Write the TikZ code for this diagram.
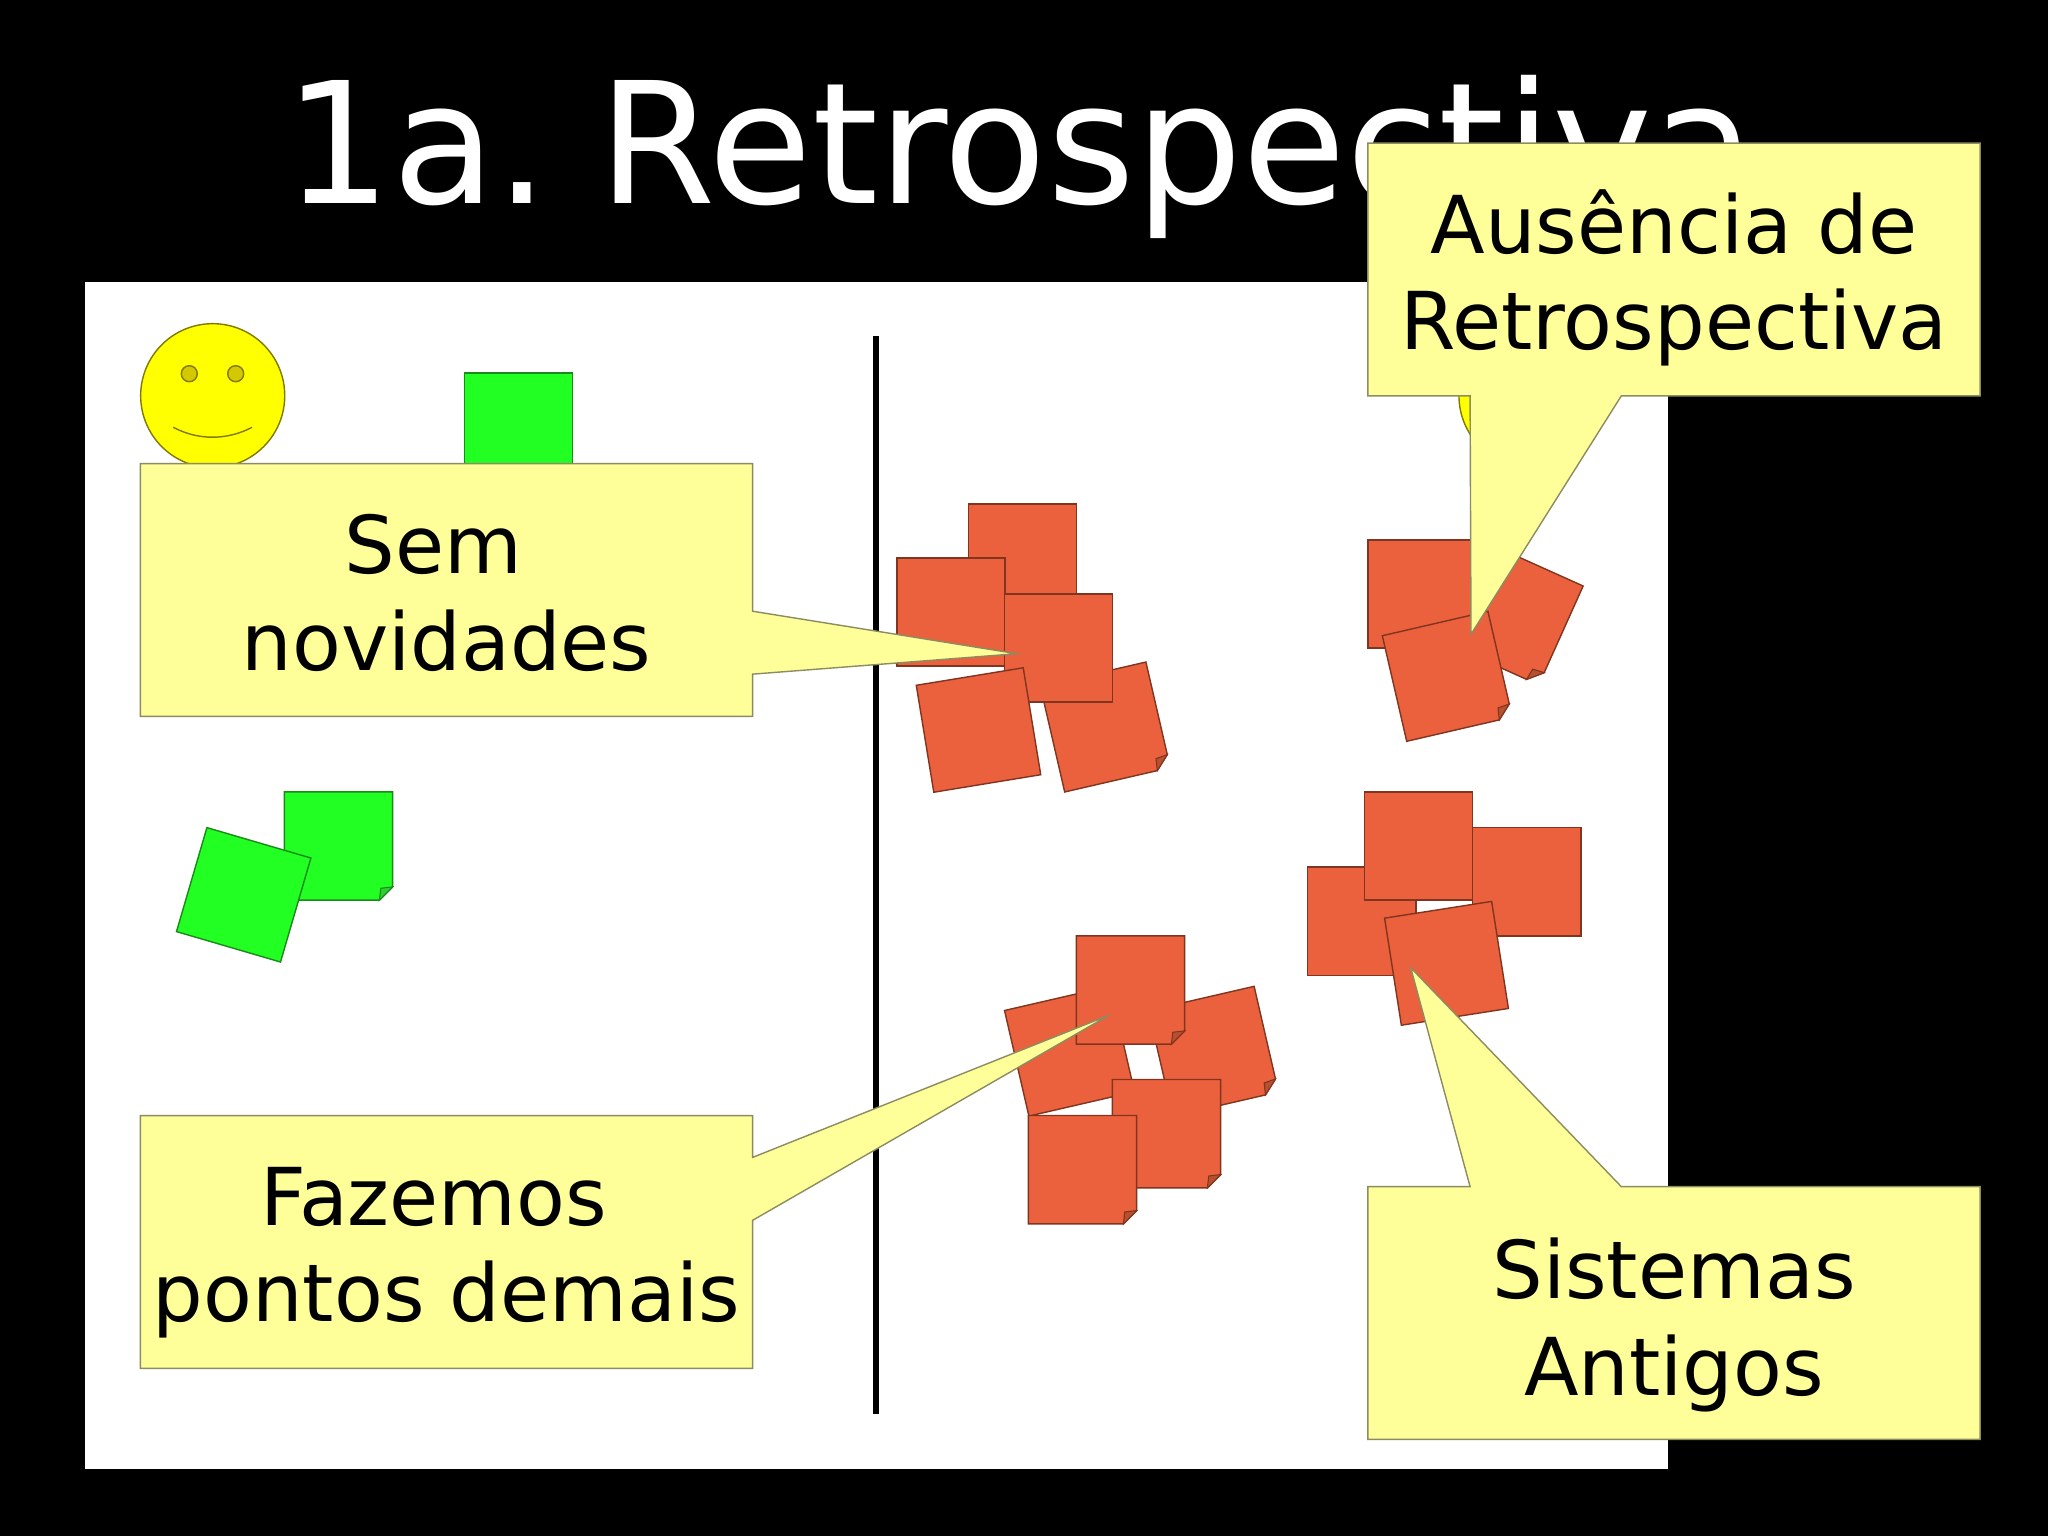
\documentclass[tikz,border=0pt]{standalone}
\usepackage{fontspec}
\setmainfont{DejaVu Sans}
\usetikzlibrary{calc}
\definecolor{noteRed}{HTML}{EB613D}
\definecolor{noteRedLine}{HTML}{7F3520}
\definecolor{noteRedFold}{HTML}{B85030}
\definecolor{noteGreen}{HTML}{22FF22}
\definecolor{noteGreenLine}{HTML}{1A8A1A}
\definecolor{noteGreenFold}{HTML}{33CC33}
\definecolor{calloutFill}{HTML}{FFFF99}
\definecolor{calloutLine}{HTML}{8C8C60}
\definecolor{faceFill}{HTML}{FFFF00}
\definecolor{faceLine}{HTML}{807A00}
\definecolor{eyeFill}{HTML}{D4C800}
\newcommand{\foldnote}[5]{%
  \node[notebox, rotate=#3] (#1) at (#2) {};
  \draw[#4] (#1.north west) -- (#1.north east) -- ($(#1.south east)!.123!(#1.north east)$) -- ($(#1.south east)!.123!(#1.south west)$) -- (#1.south west) -- cycle;
  \draw[#5] ($(#1.south east)!.123!(#1.north east)$) -- ($(#1.south east)!.11!(#1.north west)$) -- ($(#1.south east)!.123!(#1.south west)$) -- cycle;
}
\begin{document}
\begin{tikzpicture}[x=0.01cm,y=-0.01cm]
      \tikzstyle{notebox} = [rectangle, inner sep=0pt, outer sep=0pt, minimum size=1.083cm]
      \tikzstyle{rednote} = [notebox, draw=noteRedLine, line width=0.4pt, fill=noteRed]
      \tikzstyle{greennote} = [notebox, draw=noteGreenLine, line width=0.4pt, fill=noteGreen]
      \tikzstyle{redpaper} = [draw=noteRedLine, line width=0.4pt, fill=noteRed]
      \tikzstyle{redfold} = [draw=noteRedLine, line width=0.3pt, fill=noteRedFold]
      \tikzstyle{greenpaper} = [draw=noteGreenLine, line width=0.4pt, fill=noteGreen]
      \tikzstyle{greenfold} = [draw=noteGreenLine, line width=0.3pt, fill=noteGreenFold]
      \tikzstyle{face} = [circle, inner sep=0pt, draw=faceLine, line width=0.4pt, fill=faceFill, minimum size=1.44cm]
      \tikzstyle{eye} = [circle, inner sep=0pt, draw=faceLine, line width=0.4pt, fill=eyeFill, minimum size=0.16cm]
      \tikzstyle{calloutbox} = [rectangle, inner sep=0pt, outer sep=0pt, minimum width=6.12cm, minimum height=2.525cm]
      \tikzstyle{calloutshape} = [draw=calloutLine, line width=0.4pt, fill=calloutFill]
      \tikzstyle{callouttext} = [align=center, font=\fontsize{22.7}{27.4}\selectfont]

      \useasboundingbox (0,0) rectangle (2048,1536);
      \fill[black] (0,0) rectangle (2048,1536);
      \fill[white] (85,282) rectangle (1668,1469);
      \node[white, font=\fontsize{48}{50}\selectfont, anchor=base] (title) at (1020,203) {1a.\hspace{.29em}Retrospectiva};

      \coordinate (rulestart) at (876,336);
      \coordinate (ruleend) at (876,1414);
      \draw[black, line width=1.8pt] (rulestart) -- (ruleend);

      \node[face] (faceleft) at (212.7,395.7) {};
      \node[eye] (eyeleft) at (189.3,373.7) {};
      \node[eye] (eyeright) at (235.7,373.7) {};
      \coordinate (mouthleft) at (173.3,427.3);
      \coordinate (mouthright) at (252,427.3);
      \draw[faceLine, line width=0.4pt] (mouthleft) .. controls (198,440.5) and (227,440.5) .. (mouthright);
      \node[face] (faceright) at (1531,395.7) {};

      \node[greennote] (greentop) at (518.5,427) {};
      \foldnote{greenback}{338.5,846}{0}{greenpaper}{greenfold}
      \node[greennote, rotate=-16.3] (greenfront) at (243.7,894.8) {};

      \node[rednote] (redtop) at (1022.5,558) {};
      \node[rednote] (redleft) at (951,612) {};
      \foldnote{redright}{1105.3,727}{13}{redpaper}{redfold}
      \node[rednote] (redcentre) at (1058.5,648) {};
      \node[rednote, rotate=9.3] (redlow) at (978.5,730) {};

      \foldnote{oldright}{1511.5,613.2}{-24.2}{redpaper}{redfold}
      \node[rednote] (oldleft) at (1422,594) {};
      \foldnote{oldfront}{1447.3,676.3}{13}{redpaper}{redfold}

      \node[rednote, rotate=13] (pointsleft) at (1069.5,1051.1) {};
      \foldnote{pointsright}{1213.5,1051.3}{13}{redpaper}{redfold}
      \foldnote{pointstop}{1130.5,990}{0}{redpaper}{redfold}
      \foldnote{pointsmid}{1166.5,1133.7}{0}{redpaper}{redfold}
      \foldnote{pointslow}{1082.5,1169.7}{0}{redpaper}{redfold}

      \node[rednote] (legacyleft) at (1361.8,921.3) {};
      \node[rednote] (legacyright) at (1526.7,881.8) {};
      \node[rednote] (legacytop) at (1418.5,846) {};
      \node[rednote, rotate=8.9] (legacyfront) at (1446.5,963.3) {};

      \node[calloutbox] (sembox) at (446.5,590) {};
      \coordinate (semtip) at (1016.7,653.7);
      \draw[calloutshape] (sembox.north west) -- (sembox.north east) -- ($(sembox.north east)!.584!(sembox.south east)$) -- (semtip) -- ($(sembox.north east)!.833!(sembox.south east)$) -- (sembox.south east) -- (sembox.south west) -- cycle;
      \node[callouttext] (semtext) at (446.5,593) {Sem\hspace*{.32em}\\novidades};

      \node[calloutbox] (fazemosbox) at (446.5,1242) {};
      \coordinate (fazemostip) at (1109.3,1015);
      \draw[calloutshape] (fazemosbox.north west) -- (fazemosbox.north east) -- ($(fazemosbox.north east)!.165!(fazemosbox.south east)$) -- (fazemostip) -- ($(fazemosbox.north east)!.414!(fazemosbox.south east)$) -- (fazemosbox.south east) -- (fazemosbox.south west) -- cycle;
      \node[callouttext] (fazemostext) at (446.5,1253) {Fazemos\hspace*{.32em}\\pontos demais};

      \node[calloutbox] (ausenciabox) at (1674,269.5) {};
      \coordinate (ausenciatip) at (1471,634.3);
      \draw[calloutshape] (ausenciabox.north west) -- (ausenciabox.north east) -- (ausenciabox.south east) -- ($(ausenciabox.south west)!.414!(ausenciabox.south east)$) -- (ausenciatip) -- ($(ausenciabox.south west)!.167!(ausenciabox.south east)$) -- (ausenciabox.south west) -- cycle;
      \node[callouttext] (ausenciatext) at (1674,278) {Ausência de\\Retrospectiva};

      \node[calloutbox] (sistemasbox) at (1674,1313) {};
      \coordinate (sistemastip) at (1410.7,967.7);
      \draw[calloutshape] (sistemasbox.north west) -- ($(sistemasbox.north west)!.167!(sistemasbox.north east)$) -- (sistemastip) -- ($(sistemasbox.north west)!.414!(sistemasbox.north east)$) -- (sistemasbox.north east) -- (sistemasbox.south east) -- (sistemasbox.south west) -- cycle;
      \node[callouttext] (sistemastext) at (1674,1325) {Sistemas\\Antigos};
    \end{tikzpicture}
\end{document}
